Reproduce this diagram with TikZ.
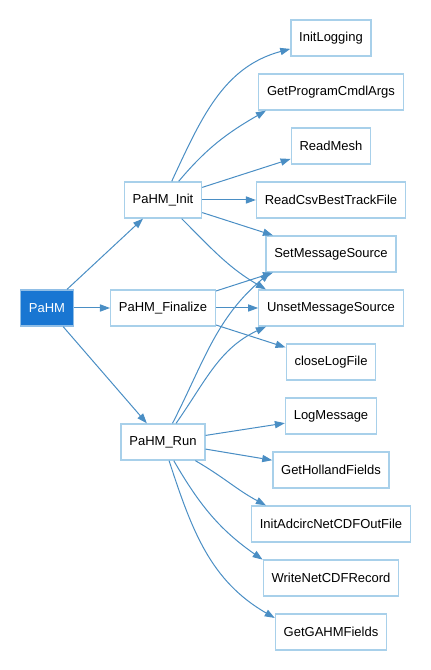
\documentclass[tikz,border=0pt]{standalone}
\usepackage{fontspec}
\setmainfont{Liberation Sans}
\usetikzlibrary{arrows.meta}

\definecolor{edgeblue}{RGB}{74,142,196}
\definecolor{boxline}{RGB}{168,208,234}
\definecolor{rootfill}{RGB}{25,118,210}
\definecolor{rootline}{RGB}{144,190,230}

\tikzset{
  fn/.style={draw=boxline,fill=white,line width=1pt,minimum height=27pt,inner xsep=6.2pt,font=\fontsize{9.75}{12}\selectfont},
  root/.style={fn,draw=rootline,fill=rootfill,text=white},
  call/.style={draw=edgeblue,line width=0.75pt,-{Triangle[length=7.5pt,width=5.4pt]}}
}

\begin{document}
\begin{tikzpicture}[x=0.75pt,y=0.75pt]
\useasboundingbox (0,0) rectangle (430,670);

% caller
\node[root] (pahm) at (47,362) {PaHM};

% second level
\node[fn] (init) at (163,470) {PaHM\_Init};
\node[fn] (fin)  at (163,362) {PaHM\_Finalize};
\node[fn] (run)  at (163,228) {PaHM\_Run};

% callees, one column
\foreach \n/\t/\y in {initlog/InitLogging/632,cmdargs/GetProgramCmdlArgs/578,readmesh/ReadMesh/524,
    readcsv/ReadCsvBestTrackFile/470,setmsg/SetMessageSource/416,unsetmsg/UnsetMessageSource/362,
    closelog/closeLogFile/308,logmsg/LogMessage/254,holland/GetHollandFields/200,
    adcirc/InitAdcircNetCDFOutFile/146,writecdf/WriteNetCDFRecord/92,gahm/GetGAHMFields/38}
  \node[fn] (\n) at (331,\y) {\t};

% straight calls
\foreach \a/\b in {pahm/init,pahm/fin,pahm/run,init/readmesh,init/readcsv,init/setmsg,
    fin/setmsg,fin/unsetmsg,fin/closelog,run/logmsg,run/holland}
  \draw[call] (\a) -- (\b);

% bent calls
\draw[call] (init) to[out=65,in=195] (initlog);
\draw[call] (init) to[out=50,in=210] (cmdargs.196);
\draw[call] (init) to[out=-45,in=150] (unsetmsg.164);
\draw[call] (run) to[out=63,in=220] (setmsg.197);
\draw[call] (run) to[out=55,in=205] (unsetmsg.196);
\draw[call] (run) to[out=-30,in=152] (adcirc.164);
\draw[call] (run) to[out=-60,in=145] (writecdf.165);
\draw[call] (run) to[out=-72,in=150] (gahm.166);

\end{tikzpicture}
\end{document}
